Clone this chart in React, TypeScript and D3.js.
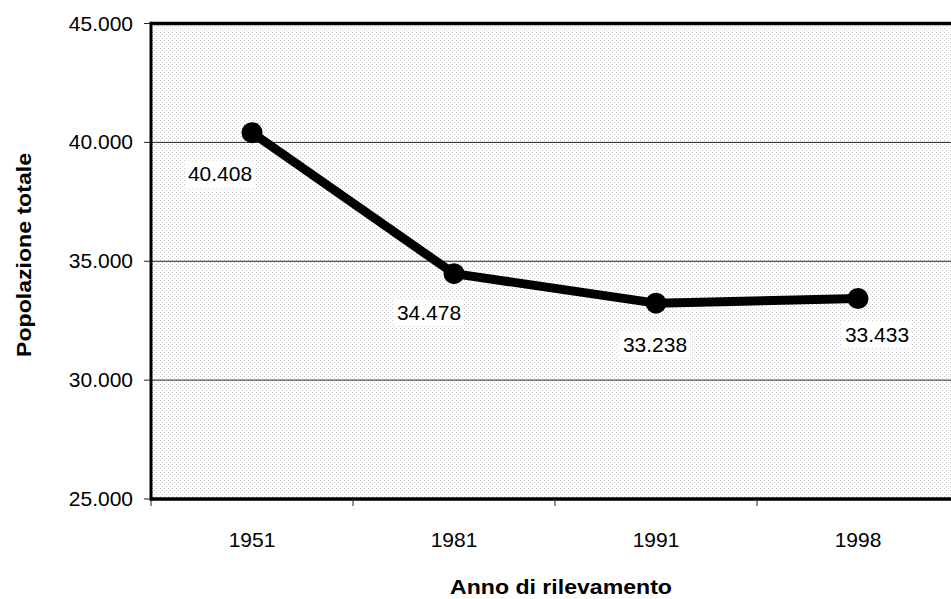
import React from "react";
import * as d3 from "d3";

const years = ["1951", "1981", "1991", "1998"];
const population = [40408, 34478, 33238, 33433];
const yTicks = [25000, 30000, 35000, 40000, 45000];
const labelOffsets = [
  [-32, 41],
  [-25, 39],
  [-1, 42],
  [19, 36],
];

const W = 951;
const H = 599;
const left = 151;
const right = 959;
const top = 23.5;
const bottom = 499;
const SX = 1.05;
const TSX = 1.1;
const FONT = "'Liberation Sans', Arial, sans-serif";

const fmt = (v: number) => d3.format(",")(v).replace(/,/g, ".");

export default function App() {
  const x = d3.scaleBand<string>().domain(years).range([left, right]);
  const y = d3.scaleLinear().domain([25000, 45000]).range([bottom, top]);
  const cx = (d: string) => (x(d) as number) + x.bandwidth() / 2;
  const line = d3
    .line<number>()
    .x((_, i) => cx(years[i]))
    .y((v) => y(v));

  const boundaries = years.map((d) => x(d) as number).concat([right]);

  return (
    <svg
      width={W}
      height={H}
      style={{ position: "absolute", left: 0, top: 0, background: "#fff" }}
    >
      <defs>
        <pattern id="dots" width={4} height={4} patternUnits="userSpaceOnUse">
          <rect width={4} height={4} fill="#ffffff" />
          <rect x={0} y={0} width={1} height={1} fill="#cccccc" />
          <rect x={2} y={2} width={1} height={1} fill="#cccccc" />
        </pattern>
      </defs>
      <rect
        x={left}
        y={top}
        width={right - left}
        height={bottom - top}
        fill="url(#dots)"
      />
      {yTicks.map((t) => (
        <g key={t}>
          <line x1={left} x2={right} y1={y(t)} y2={y(t)} stroke="#222" strokeWidth={1} />
          <line x1={144} x2={left} y1={y(t)} y2={y(t)} stroke="#222" strokeWidth={1} />
          <text
            transform={`translate(133,${y(t) + 7}) scale(${SX},1)`}
            textAnchor="end"
            fontFamily={FONT}
            fontSize={20}
            fill="#000"
          >
            {fmt(t)}
          </text>
        </g>
      ))}
      <line x1={left} x2={right} y1={top} y2={top} stroke="#000" strokeWidth={3.5} />
      <line x1={left} x2={right} y1={bottom} y2={bottom} stroke="#000" strokeWidth={3.5} />
      <line x1={left} x2={left} y1={top - 1.75} y2={bottom + 1.75} stroke="#000" strokeWidth={3} />
      {boundaries.map((b, i) => (
        <line key={i} x1={b} x2={b} y1={bottom} y2={bottom + 7} stroke="#222" strokeWidth={1} />
      ))}
      {years.map((d) => (
        <text
          key={d}
          transform={`translate(${cx(d)},${547}) scale(${SX},1)`}
          textAnchor="middle"
          fontFamily={FONT}
          fontSize={20}
        >
          {d}
        </text>
      ))}
      <path
        d={line(population) as string}
        fill="none"
        stroke="#000"
        strokeWidth={9}
        strokeLinejoin="round"
      />
      {population.map((v, i) => (
        <circle key={i} cx={cx(years[i])} cy={y(v)} r={10.5} fill="#000" />
      ))}
      {population.map((v, i) => {
        const lx = cx(years[i]) + labelOffsets[i][0];
        const ly = y(v) + labelOffsets[i][1];
        return (
          <g key={i}>
            <rect x={lx - 35} y={ly - 13} width={70} height={26} fill="#fff" />
            <text
              transform={`translate(${lx},${ly + 7}) scale(${SX},1)`}
              textAnchor="middle"
              fontFamily={FONT}
              fontSize={20}
            >
              {fmt(v)}
            </text>
          </g>
        );
      })}
      <text
        transform={`translate(${(left + W) / 2 + 10},594) scale(${TSX},1)`}
        textAnchor="middle"
        fontFamily={FONT}
        fontSize={21}
        fontWeight="bold"
      >
        Anno di rilevamento
      </text>
      <text
        transform={`translate(31,255) rotate(-90) scale(${TSX},1)`}
        textAnchor="middle"
        fontFamily={FONT}
        fontSize={21}
        fontWeight="bold"
      >
        Popolazione totale
      </text>
    </svg>
  );
}
